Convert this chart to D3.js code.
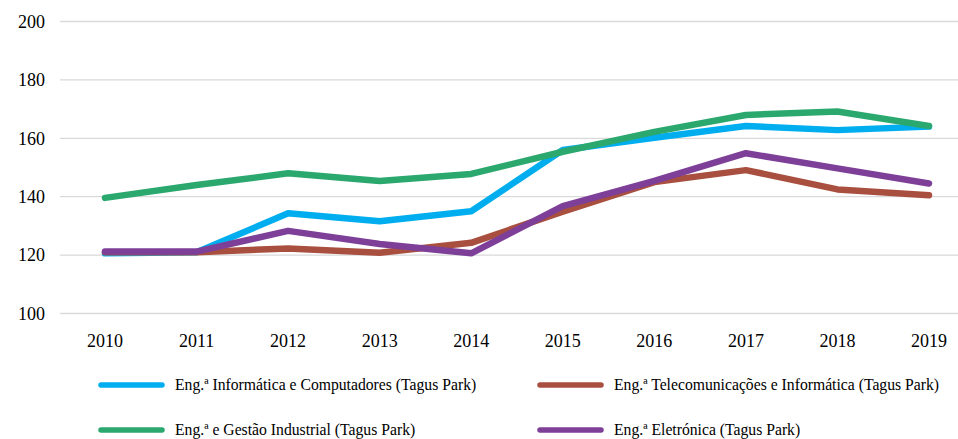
<!DOCTYPE html>
<html>
<head>
<meta charset="utf-8">
<script src="https://cdn.jsdelivr.net/npm/d3@7"></script>
<style>
body { margin: 0; background: #fff; }
</style>
</head>
<body>
<script>
// categories
var years = [2010, 2011, 2012, 2013, 2014, 2015, 2016, 2017, 2018, 2019];
var yTicks = [100, 120, 140, 160, 180, 200];

// series values
var informatica = [120.6, 121, 134.3, 131.6, 135, 156, 160.2, 164.2, 162.8, 164];
var telecom = [121, 121, 122.3, 120.8, 124.2, 134.9, 145, 149.1, 142.5, 140.5];
var gestao = [139.6, 144, 148, 145.4, 147.8, 155.4, 162.2, 168, 169.2, 164.2];
var eletronica = [121.2, 121.2, 128.3, 123.8, 120.6, 136.8, 145.4, 154.9, 149.7, 144.5];

var seriesNames = [
    "Eng.ª Informática e Computadores (Tagus Park)",
    "Eng.ª Telecomunicações e Informática (Tagus Park)",
    "Eng.ª e Gestão Industrial (Tagus Park)",
    "Eng.ª Eletrónica (Tagus Park)"
];
var seriesValues = [informatica, telecom, gestao, eletronica];
var seriesColors = ["#00aeef", "#a84f3f", "#2ba86e", "#7e3f98"];

var serif = "'Liberation Serif', 'Times New Roman', serif";
var width = 958, height = 439;

var svg = d3.select("body")
    .append("svg")
    .attr("width", width)
    .attr("height", height)
    .style("font-family", serif);

var x = d3.scalePoint()
    .domain(years)
    .range([105, 929]);

var y = d3.scaleLinear()
    .domain([100, 200])
    .range([313.5, 21.5]);

//gridlines
svg.selectAll(".grid")
    .data(yTicks)
    .enter()
    .append("line")
    .attr("class", "grid")
    .attr("x1", 60)
    .attr("x2", width)
    .attr("y1", function(d){ return y(d); })
    .attr("y2", function(d){ return y(d); })
    .attr("stroke", "#d9d9d9")
    .attr("stroke-width", 1.3);

//y labels
svg.selectAll(".ylab")
    .data(yTicks)
    .enter()
    .append("text")
    .attr("class", "ylab")
    .attr("x", 45)
    .attr("y", function(d){ return y(d); })
    .attr("dy", "0.35em")
    .attr("text-anchor", "end")
    .style("font-family", serif)
    .style("font-size", "18px")
    .text(function(d){ return d; });

//x labels
svg.selectAll(".xlab")
    .data(years)
    .enter()
    .append("text")
    .attr("class", "xlab")
    .attr("x", function(d){ return x(d); })
    .attr("y", 341)
    .attr("dy", "0.35em")
    .attr("text-anchor", "middle")
    .style("font-family", serif)
    .style("font-size", "18px")
    .text(function(d){ return d; });

var line = d3.line()
    .x(function(d, i){ return x(years[i]); })
    .y(function(d){ return y(d); });

svg.selectAll(".series")
    .data(seriesValues)
    .enter()
    .append("path")
    .attr("class", "series")
    .attr("d", line)
    .attr("fill", "none")
    .attr("stroke", function(d, i){ return seriesColors[i]; })
    .attr("stroke-width", 6.5)
    .attr("stroke-linejoin", "round")
    .attr("stroke-linecap", "round");

//legend
var legendPos = [[99, 385], [538, 385], [99, 430], [538, 430]];

var legend = svg.selectAll(".legend")
    .data(seriesNames)
    .enter()
    .append("g")
    .attr("class", "legend")
    .attr("transform", function(d, i){ return "translate(" + legendPos[i][0] + "," + legendPos[i][1] + ")"; });

legend.append("line")
    .attr("x1", 2)
    .attr("x2", 63)
    .attr("stroke", function(d, i){ return seriesColors[i]; })
    .attr("stroke-width", 5.5)
    .attr("stroke-linecap", "round");

legend.append("text")
    .attr("x", 76)
    .attr("dy", "0.32em")
    .style("font-family", serif)
    .style("font-size", "15.7px")
    .text(function(d){ return d; });
</script>
</body>
</html>
